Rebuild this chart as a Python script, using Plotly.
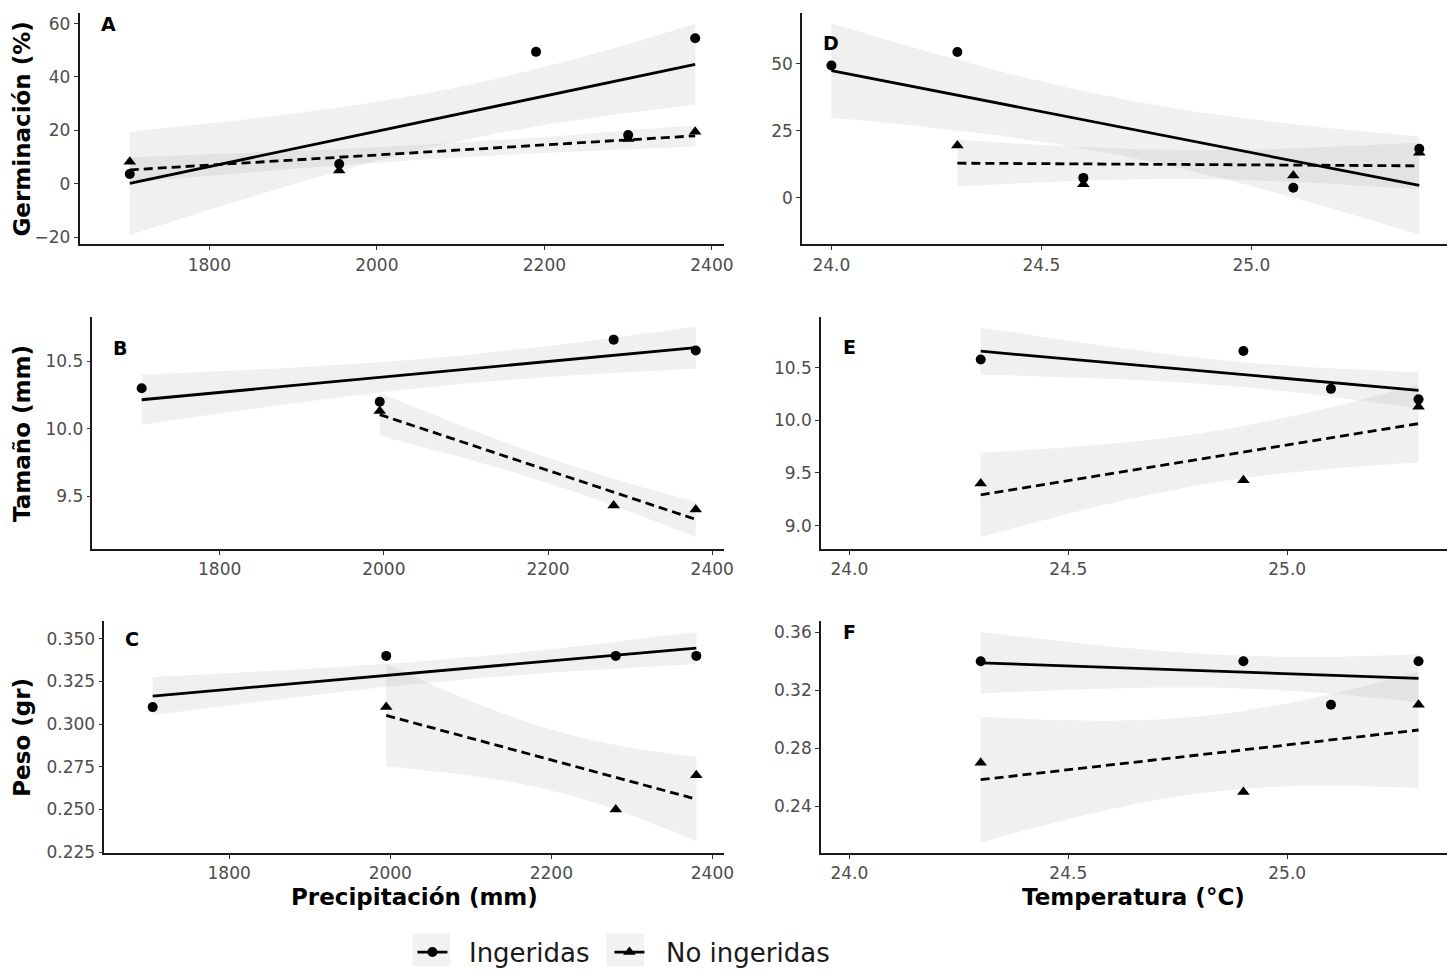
import numpy as np
import plotly.graph_objects as go

# ---------------- data ----------------
# Germination (%) by site
germ_precip_ing = [1705, 1955, 2190, 2300, 2380]
germ_temp_ing = [25.1, 24.6, 24.0, 25.4, 24.3]
germ_ing = [3.7, 7.4, 49.4, 18.3, 54.5]
germ_precip_no = [1705, 1955, 2300, 2380]
germ_temp_no = [25.1, 24.6, 25.4, 24.3]
germ_no = [8.3, 5.0, 16.8, 19.5]

# Seed size (mm) and weight (gr) by site
sw_precip_ing = [1705, 1995, 2280, 2380]
sw_temp_ing = [25.1, 25.3, 24.9, 24.3]
size_ing = [10.30, 10.20, 10.66, 10.58]
weight_ing = [0.31, 0.34, 0.34, 0.34]
sw_precip_no = [1995, 2280, 2380]
sw_temp_no = [25.3, 24.9, 24.3]
size_no = [10.13, 9.43, 9.40]
weight_no = [0.31, 0.25, 0.27]

group_names = ["Ingeridas", "No ingeridas"]
panel_letters = ["A", "D", "B", "E", "C", "F"]
x_titles = ["Precipitación (mm)", "Temperatura (°C)"]
y_titles = ["Germinación (%)", "Tamaño (mm)", "Peso (gr)"]

CI_MULT = 1.28  # band multiplier on standard error of the fit

W, H = 1456, 976
FONT = "DejaVu Sans"


def fit_band(x, y, n=80):
    x = np.asarray(x, float)
    y = np.asarray(y, float)
    b, a = np.polyfit(x, y, 1)
    xs = np.linspace(x.min(), x.max(), n)
    fit = a + b * xs
    resid = y - (a + b * x)
    s = np.sqrt((resid ** 2).sum() / (len(x) - 2))
    sxx = ((x - x.mean()) ** 2).sum()
    se = s * np.sqrt(1 / len(x) + (xs - x.mean()) ** 2 / sxx)
    return xs, fit, fit - CI_MULT * se, fit + CI_MULT * se


panels = [
    ("", germ_precip_ing, germ_ing, germ_precip_no, germ_no),
    ("2", germ_temp_ing, germ_ing, germ_temp_no, germ_no),
    ("3", sw_precip_ing, size_ing, sw_precip_no, size_no),
    ("4", sw_temp_ing, size_ing, sw_temp_no, size_no),
    ("5", sw_precip_ing, weight_ing, sw_precip_no, weight_no),
    ("6", sw_temp_ing, weight_ing, sw_temp_no, weight_no),
]

# pixel boxes of each panel: (left, right, top, bottom)
boxes = [
    (80, 729, 13, 247),
    (807, 1456, 13, 247),
    (93, 729, 320, 555),
    (826, 1456, 320, 555),
    (105, 729, 627, 862),
    (826, 1456, 627, 862),
]
x_ranges = [
    [1645, 2415],
    [23.93, 25.466],
    [1645, 2415],
    [23.935, 25.365],
    [1645, 2415],
    [23.935, 25.365],
]
y_ranges = [
    [-22.7, 64.0],
    [-17.5, 69.1],
    [9.105, 10.83],
    [8.774, 10.986],
    [0.2244, 0.3607],
    [0.2078, 0.368],
]
y_ticks = [
    [-20, 0, 20, 40, 60],
    [0, 25, 50],
    [9.5, 10.0, 10.5],
    [9.0, 9.5, 10.0, 10.5],
    [0.225, 0.250, 0.275, 0.300, 0.325, 0.350],
    [0.24, 0.28, 0.32, 0.36],
]
y_fmt = ["d", "d", ".1f", ".1f", ".3f", ".2f"]
letter_pos = [(1680, 60), (24.0, 58), (1678, 10.6), (24.0, 10.70), (1679, 0.350), (24.0, 0.36)]

fig = go.Figure()

band_fill = "rgba(153,153,153,0.15)"
styles = [
    dict(dash="solid", symbol="circle", size=10),
    dict(dash="9px,5px", symbol="triangle-up", size=11),
]

for i, (sfx, xi, yi, xn, yn) in enumerate(panels):
    xa = "x" + sfx
    ya = "y" + sfx
    for g, (xx, yy) in enumerate([(xi, yi), (xn, yn)]):
        xs, fit, lo, hi = fit_band(xx, yy)
        fig.add_trace(go.Scatter(
            x=np.concatenate([xs, xs[::-1]]), y=np.concatenate([hi, lo[::-1]]),
            fill="toself", fillcolor=band_fill, line=dict(width=0),
            mode="lines", hoverinfo="skip", showlegend=False, xaxis=xa, yaxis=ya))
    for g, (xx, yy) in enumerate([(xi, yi), (xn, yn)]):
        st = styles[g]
        xs, fit, lo, hi = fit_band(xx, yy)
        fig.add_trace(go.Scatter(
            x=xx, y=yy, mode="markers",
            marker=dict(symbol=st["symbol"], size=st["size"], color="black"),
            showlegend=False, legendgroup=group_names[g], xaxis=xa, yaxis=ya))
        fig.add_trace(go.Scatter(
            x=xs, y=fit, mode="lines",
            line=dict(color="black", width=2.8, dash=st["dash"]),
            showlegend=False, legendgroup=group_names[g], xaxis=xa, yaxis=ya))

# legend entries
legend_widths = [152, 190]
for g in range(2):
    st = styles[g]
    fig.add_trace(go.Scatter(
        x=[None], y=[None], mode="lines+markers", name="\u00a0\u00a0" + group_names[g],
        marker=dict(symbol=st["symbol"], size=st["size"], color="black"),
        line=dict(color="black", width=2.8),
        legendwidth=legend_widths[g],
        legendgroup=group_names[g], showlegend=True))

layout = dict(
    width=W, height=H, margin=dict(l=0, r=0, t=0, b=0),
    paper_bgcolor="white", plot_bgcolor="white",
    font=dict(family=FONT, color="#4D4D4D", size=17),
    showlegend=True,
    legend=dict(orientation="h", x=415 / W, xanchor="left", y=1 - 962 / H, yanchor="middle",
                font=dict(size=26, color="#1a1a1a", family=FONT),
                itemwidth=30, bgcolor="rgba(0,0,0,0)", borderwidth=0),
)

annotations = []
for i, (sfx, *_rest) in enumerate(panels):
    l, r, t, b = boxes[i]
    xkey = "xaxis" + sfx
    ykey = "yaxis" + sfx
    axis_common = dict(
        showline=True, linecolor="#1a1a1a", linewidth=1.5,
        ticks="outside", ticklen=4, tickwidth=1.2, tickcolor="#333333",
        showgrid=False, zeroline=False,
        tickfont=dict(family=FONT, size=17, color="#4D4D4D"),
    )
    layout[xkey] = dict(
        axis_common,
        domain=[l / W, r / W],
        anchor="y" + sfx,
        range=x_ranges[i],
        tickvals=[1800, 2000, 2200, 2400] if i % 2 == 0 else [24.0, 24.5, 25.0],
        tickformat="d" if i % 2 == 0 else ".1f",
    )
    layout[ykey] = dict(
        axis_common,
        domain=[1 - b / H, 1 - t / H],
        anchor="x" + sfx,
        range=y_ranges[i],
        tickvals=y_ticks[i],
        tickformat=y_fmt[i],
    )
    lx, ly = letter_pos[i]
    annotations.append(dict(
        x=lx, y=ly, xref="x" + sfx, yref="y" + sfx, text="<b>%s</b>" % panel_letters[i],
        showarrow=False, font=dict(family=FONT, size=19, color="black"),
        xanchor="center", yanchor="middle"))

# y-axis titles
for r_i, (top, bot) in enumerate([(13, 247), (320, 555), (627, 862)]):
    annotations.append(dict(
        x=22 / W, y=1 - ((top + bot) / 2) / H, xref="paper", yref="paper",
        text="<b>%s</b>" % y_titles[r_i], textangle=-90, showarrow=False,
        font=dict(family=FONT, size=23, color="black"),
        xanchor="center", yanchor="middle"))
# x-axis titles
for c_i, (l, r) in enumerate([(105, 729), (826, 1456)]):
    annotations.append(dict(
        x=((l + r) / 2) / W, y=1 - 906 / H, xref="paper", yref="paper",
        text="<b>%s</b>" % x_titles[c_i], showarrow=False,
        font=dict(family=FONT, size=23, color="black"),
        xanchor="center", yanchor="middle"))

layout["annotations"] = annotations

# grey legend key backgrounds
shapes = []
for x0, x1 in [(415, 453), (610, 648)]:
    shapes.append(dict(type="rect", xref="paper", yref="paper",
                       x0=x0 / W, x1=x1 / W, y0=0, y1=1 - 943 / H,
                       fillcolor="#F2F2F2", line=dict(width=0), layer="below"))
layout["shapes"] = shapes

fig.update_layout(**layout)

fig.write_html("out.html")
